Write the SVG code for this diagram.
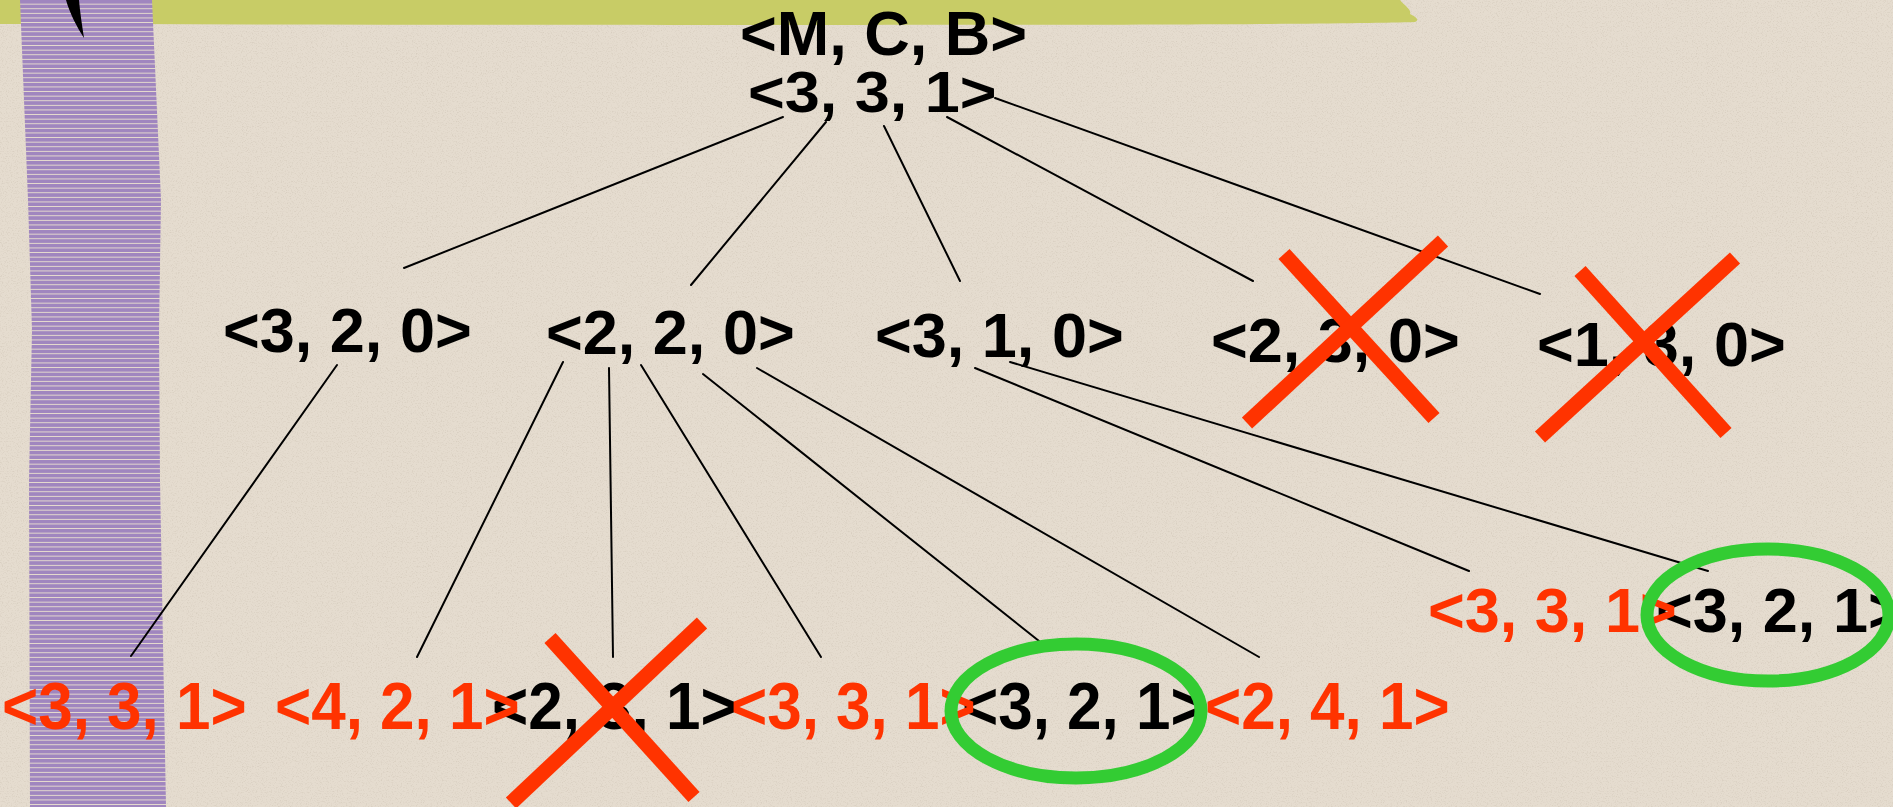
<svg xmlns="http://www.w3.org/2000/svg" width="1893" height="807" viewBox="0 0 1893 807">
  <style>
    .t { font-family: "Liberation Sans", Arial, sans-serif; font-weight: bold; font-size: 63px; }
    .b { fill: #000000; }
    .r { fill: #ff3300; }
    .bot { font-size: 62px; }
    .edge { stroke: #000000; stroke-width: 2; fill: none; stroke-linecap: round; }
    .x { stroke: #ff3300; stroke-width: 15; stroke-linecap: butt; fill: none; }
    .ring { stroke: #33cc33; stroke-width: 13; fill: none; }
  </style>
  <defs>
    <pattern id="stripes" x="0" y="0" width="20" height="4.6" patternUnits="userSpaceOnUse">
      <rect x="0" y="0" width="20" height="4.6" fill="#a086bf"/>
      <rect x="0" y="3.7" width="20" height="0.9" fill="#e9dfcf"/>
    </pattern>
    <filter id="paper" x="0" y="0" width="100%" height="100%">
      <feTurbulence type="fractalNoise" baseFrequency="0.8" numOctaves="2" seed="7" result="n"/>
      <feColorMatrix in="n" type="matrix" values="0 0 0 0 0.62  0 0 0 0 0.55  0 0 0 0 0.46  3 0 0 0 -1.5"/>
    </filter>
  </defs>

  <g id="background">
    <rect x="0" y="0" width="1893" height="807" fill="#e5dccf"/>
    <rect x="0" y="0" width="1893" height="807" filter="url(#paper)" opacity="0.55"/>
    <path d="M0,0 L1400,0 C1405,6 1412,10 1410,14 C1416,17 1420,20 1415,22 C1300,26 600,25 0,24 Z" fill="#c8cc66"/>
    <path d="M20,0 L152,0 L161,200 L159,330 L160,480 L166,807 L30,807 L29,480 L32,330 L28,200 Z" fill="url(#stripes)"/>
    <path d="M66,0 C70,14 77,27 84,38 C82,25 80,12 79,0 Z" fill="#000000"/>
  </g>

  <g id="connectors">
    <line class="edge" x1="783" y1="117" x2="404" y2="268"/>
    <line class="edge" x1="826" y1="122" x2="691" y2="285"/>
    <line class="edge" x1="884" y1="126" x2="960" y2="281"/>
    <line class="edge" x1="947" y1="117" x2="1253" y2="281"/>
    <line class="edge" x1="995" y1="98" x2="1540" y2="294"/>
    <line class="edge" x1="337" y1="365" x2="131" y2="656"/>
    <line class="edge" x1="563" y1="362" x2="417" y2="657"/>
    <line class="edge" x1="609" y1="368" x2="613" y2="657"/>
    <line class="edge" x1="641" y1="365" x2="821" y2="657"/>
    <line class="edge" x1="703" y1="374" x2="1039" y2="641"/>
    <line class="edge" x1="757" y1="368" x2="1259" y2="657"/>
    <line class="edge" x1="975" y1="368" x2="1469" y2="571"/>
    <line class="edge" x1="1010" y1="362" x2="1708" y2="571"/>
  </g>

  <g id="root">
    <text class="t b" x="740" y="55">&lt;M, C, B&gt;</text>
    <text class="t b" x="748" y="112" transform="translate(0,112) scale(1,0.91) translate(0,-112)">&lt;3, 3, 1&gt;</text>
  </g>

  <g id="n320"><text class="t b" x="223" y="352">&lt;3, 2, 0&gt;</text></g>
  <g id="n220"><text class="t b" x="546" y="354">&lt;2, 2, 0&gt;</text></g>
  <g id="n310"><text class="t b" x="875" y="357">&lt;3, 1, 0&gt;</text></g>
  <g id="n230"><text class="t b" x="1211" y="362">&lt;2, 3, 0&gt;</text></g>
  <g id="n130"><text class="t b" x="1537" y="366">&lt;1, 3, 0&gt;</text></g>

  <g transform="translate(0,729) scale(1,1.08) translate(0,-729)">
    <g id="n231"><text class="t bot b" x="492" y="729">&lt;2, 3, 1&gt;</text></g>
    <g id="n321a"><text class="t bot b" x="962" y="729">&lt;3, 2, 1&gt;</text></g>
    <g id="n331a"><text class="t bot r" x="2" y="729">&lt;3, 3, 1&gt;</text></g>
    <g id="n421"><text class="t bot r" x="275" y="729">&lt;4, 2, 1&gt;</text></g>
    <g id="n331b"><text class="t bot r" x="731" y="729">&lt;3, 3, 1&gt;</text></g>
    <g id="n241"><text class="t bot r" x="1205" y="729">&lt;2, 4, 1&gt;</text></g>
  </g>
  <g id="n321b"><text class="t b" x="1656" y="632">&lt;3, 2, 1&gt;</text></g>
  <g id="n331c"><text class="t r" x="1428" y="632">&lt;3, 3, 1&gt;</text></g>

  <g id="cross1">
    <line class="x" x1="1284" y1="254" x2="1434" y2="418"/>
    <line class="x" x1="1443" y1="241" x2="1247" y2="423"/>
  </g>
  <g id="cross2">
    <line class="x" x1="1580" y1="271" x2="1726" y2="433"/>
    <line class="x" x1="1735" y1="258" x2="1540" y2="437"/>
  </g>
  <g id="cross3">
    <line class="x" x1="550" y1="638" x2="694" y2="797"/>
    <line class="x" x1="702" y1="623" x2="511" y2="803"/>
  </g>

  <g id="ring1"><ellipse class="ring" cx="1076" cy="711" rx="125" ry="67"/></g>
  <g id="ring2"><ellipse class="ring" cx="1768" cy="615" rx="121" ry="66"/></g>
</svg>
